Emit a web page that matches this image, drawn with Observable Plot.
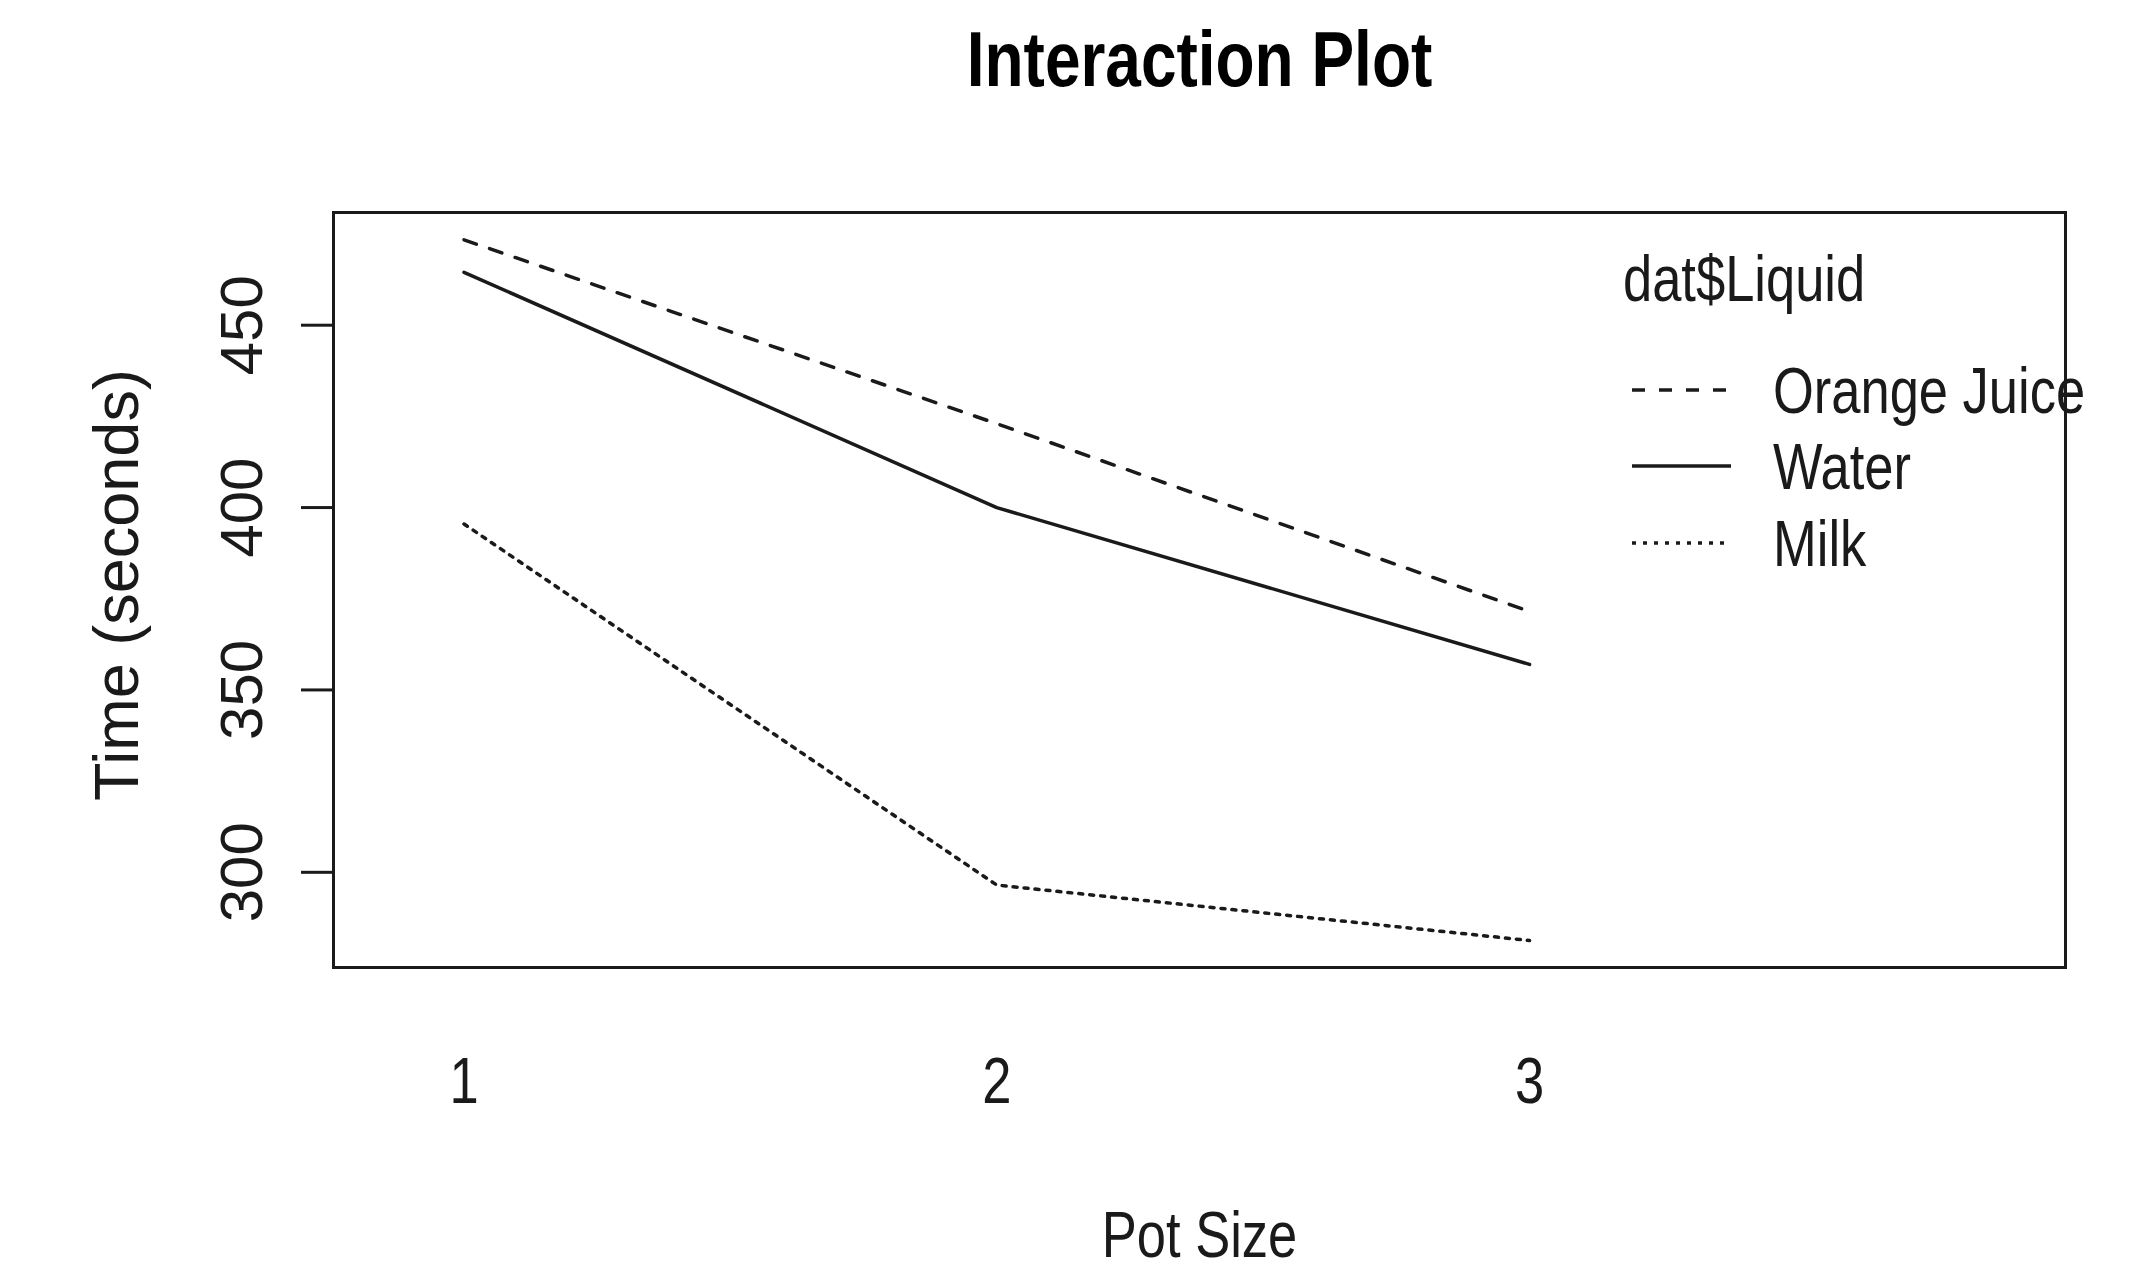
<!DOCTYPE html>
<html>
<head>
<meta charset="utf-8">
<script src="https://cdn.jsdelivr.net/npm/d3@7"></script>
<script src="https://cdn.jsdelivr.net/npm/@observablehq/plot@0.6"></script>
<style>
  html, body { margin: 0; padding: 0; background: #fff; }
  #chart { width: 2129px; height: 1271px; overflow: hidden; }
</style>
</head>
<body>
<div id="chart"></div>
<script>
// ---- data ----
const potSizes = [1, 2, 3];
const liquids = ["Orange Juice", "Water", "Milk"];
const orangeJuice = [473.4, 423, 371.5];
const water = [464.5, 400, 357];
const milk = [395.5, 296.5, 281.3];
const yTicks = [300, 350, 400, 450];
const xTickLabels = ["1", "2", "3"];
const chartTitle = "Interaction Plot";
const xLabel = "Pot Size";
const yLabel = "Time (seconds)";
const legendTitle = "dat$Liquid";

// ---- styles ----
const narrow = "'Liberation Sans Narrow', 'Liberation Sans', Arial, sans-serif";
const regular = "'Liberation Sans', Arial, sans-serif";
const ink = "#1a1a1a";
const narrowFactor = 0.82;
const dashes = {"Orange Juice": "13,14", "Water": null, "Milk": "4,7"};

const seriesValues = {"Orange Juice": orangeJuice, "Water": water, "Milk": milk};
const rows = liquids.flatMap(l => potSizes.map((p, i) => ({liquid: l, pot: p, time: seriesValues[l][i]})));

const W = 2129, H = 1271;
const mL = 333, mR = 64, mT = 212, mB = 304;

const lineMarks = liquids.map(l => Plot.line(rows.filter(r => r.liquid === l), {
  x: "pot", y: "time", stroke: ink, strokeWidth: 3.5,
  strokeDasharray: dashes[l] ?? undefined
}));

const plot = Plot.plot({
  width: W, height: H,
  marginLeft: mL, marginRight: mR, marginTop: mT, marginBottom: mB,
  x: {domain: [0.755, 4.006], axis: null},
  y: {domain: [273.9, 480.9], axis: null},
  style: {background: "#fff", color: ink, overflow: "visible"},
  marks: [
    Plot.frame({stroke: ink, strokeWidth: 3}),
    Plot.axisY({ticks: yTicks, tickSize: 32, tickFormat: () => "", stroke: ink, strokeWidth: 3, label: null}),
    Plot.text(yTicks, {y: d => d, text: d => String(d), frameAnchor: "left", dx: -91,
      rotate: -90, textAnchor: "middle", lineAnchor: "middle", fontSize: 60, fontFamily: regular, fill: ink}),
    Plot.text(potSizes, {x: d => d, text: (d, i) => xTickLabels[i], frameAnchor: "bottom", dy: 115,
      textAnchor: "middle", lineAnchor: "middle", fontSize: 64, fontFamily: narrow, fill: ink}),
    Plot.text([xLabel], {frameAnchor: "bottom", dy: 269, textAnchor: "middle", lineAnchor: "middle", fontSize: 64, fontFamily: narrow, fill: ink}),
    Plot.text([yLabel], {frameAnchor: "left", dx: -216, dy: -5, rotate: -90, textAnchor: "middle", lineAnchor: "middle", fontSize: 63, fontFamily: regular, fill: ink}),
    Plot.text([chartTitle], {frameAnchor: "top", dy: -151, textAnchor: "middle", lineAnchor: "middle", fontSize: 78, fontWeight: "bold", fontFamily: narrow, fill: "#000"}),
    ...lineMarks
  ]
});

document.getElementById("chart").appendChild(plot);

// ---- legend (layout drawn beside the plot frame) ----
const svg = d3.select(plot);
const lg = svg.append("g").attr("font-family", narrow).attr("fill", ink).attr("text-anchor", "start");
lg.append("text").attr("x", 1623).attr("y", 301).attr("font-size", 64).text(legendTitle);
const rowY = [390, 466, 543];
liquids.forEach((l, i) => {
  const ln = lg.append("line")
    .attr("x1", 1632).attr("x2", 1731).attr("y1", rowY[i]).attr("y2", rowY[i])
    .attr("stroke", ink).attr("stroke-width", 3.5);
  if (dashes[l]) ln.attr("stroke-dasharray", dashes[l]);
  lg.append("text").attr("x", 1773).attr("y", rowY[i]).attr("dy", "0.36em")
    .attr("font-size", 64).text(l);
});

// condense the horizontal (narrow-face) text to mimic an Arial Narrow face
svg.selectAll("[font-family*='Narrow'] text").each(function () {
  const len = this.getComputedTextLength();
  this.setAttribute("textLength", (len * narrowFactor).toFixed(1));
  this.setAttribute("lengthAdjust", "spacingAndGlyphs");
});
</script>
</body>
</html>
